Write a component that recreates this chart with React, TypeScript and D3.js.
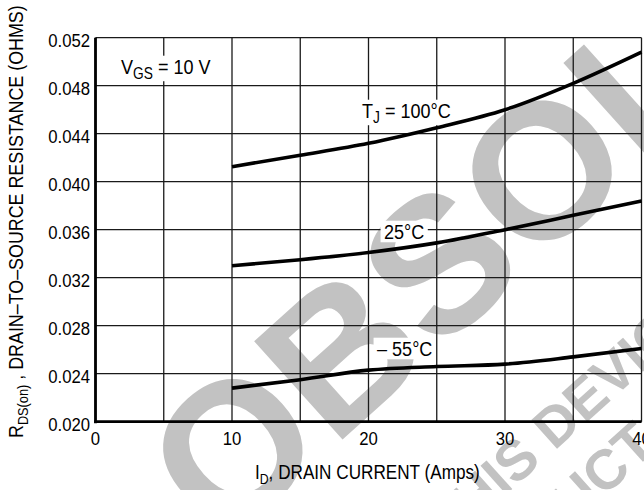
import React, { useEffect, useRef } from "react";
import * as d3 from "d3";

const currents = [10, 15, 20, 25, 30, 35, 40];
const r100 = [0.04125, 0.0422, 0.0432, 0.0445, 0.046, 0.0482, 0.0508];
const r25 = [0.033, 0.0335, 0.0341, 0.0349, 0.036, 0.0372, 0.0384];
const rMinus55 = [0.0228, 0.0235, 0.0243, 0.0246, 0.0248, 0.0254, 0.0261];
const xTickLabels = [0, 10, 20, 30, 40];
const xGrid = [0, 5, 10, 15, 20, 25, 30, 35, 40];
const yTicks = [0.02, 0.024, 0.028, 0.032, 0.036, 0.04, 0.044, 0.048, 0.052];

const W = 644;
const H = 490;
const FONT = "'Liberation Sans', Arial, Helvetica, sans-serif";
const WM = "#c2c2c2";
const SX = 0.88;

export default function App() {
  const ref = useRef<SVGSVGElement>(null);

  useEffect(() => {
    const svg = d3.select(ref.current);
    svg.selectAll("*").remove();

    const x = d3.scaleLinear().domain([0, 40]).range([95.5, 641.5]);
    const y = d3.scaleLinear().domain([0.02, 0.052]).range([421.7, 37.7]);

    svg.append("rect").attr("width", W).attr("height", H).attr("fill", "#fff");

    // watermark
    const wm = svg.append("g").attr("fill", WM).attr("font-family", FONT).attr("font-weight", "bold");
    wm.append("text").attr("transform", "translate(222,548) rotate(-42)").attr("font-size", 192).text("OBSOLETE");
    wm.append("text").attr("transform", "translate(448,547) rotate(-42)").attr("font-size", 56).text("THIS DEVICE IS");
    wm.append("text").attr("transform", "translate(453,633) rotate(-42)").attr("font-size", 56).text("PRODUCT");

    // grid
    const grid = svg.append("g").attr("stroke", "#1a1a1a").attr("stroke-width", 1.3);
    grid.selectAll("line.v").data(xGrid).join("line")
      .attr("x1", (d) => x(d)).attr("x2", (d) => x(d))
      .attr("y1", y(0.052)).attr("y2", y(0.02));
    grid.selectAll("line.h").data(yTicks).join("line")
      .attr("class", "h")
      .attr("x1", x(0)).attr("x2", x(40))
      .attr("y1", (d) => y(d)).attr("y2", (d) => y(d));

    // tick labels (condensed)
    const yl = svg.append("g").selectAll("g").data(yTicks).join("g")
      .attr("transform", (d) => `translate(90,${y(d) + 9}) scale(${SX},1)`);
    yl.append("text").attr("text-anchor", "end").attr("font-family", FONT).attr("font-size", 19)
      .text((d) => d3.format(".3f")(d));
    const xl = svg.append("g").selectAll("g").data(xTickLabels).join("g")
      .attr("transform", (d) => `translate(${x(d)},445) scale(${SX},1)`);
    xl.append("text").attr("text-anchor", "middle").attr("font-family", FONT).attr("font-size", 19)
      .text((d) => String(d));

    // in-plot labels with white backgrounds
    const addLabel = (tx: number, ty: number, build: (t: any) => void) => {
      const g = svg.append("g").attr("transform", `translate(${tx},${ty}) scale(0.86,1)`);
      const bg = g.append("rect").attr("fill", "#fff");
      const t = g.append("text").attr("font-family", FONT).attr("font-size", 21);
      build(t);
      const b = (t.node() as SVGTextElement).getBBox();
      bg.attr("x", b.x - 4).attr("y", b.y + 1).attr("width", b.width + 8).attr("height", b.height - 2);
    };
    addLabel(121, 74, (t) => {
      t.append("tspan").text("V");
      t.append("tspan").attr("dy", 5).attr("font-size", 16).text("GS");
      t.append("tspan").attr("dy", -5).text(" = 10 V");
    });
    addLabel(362, 118, (t) => {
      t.append("tspan").text("T");
      t.append("tspan").attr("dy", 5).attr("font-size", 16).text("J");
      t.append("tspan").attr("dy", -5).text(" = 100°C");
    });
    addLabel(384, 239, (t) => t.text("25°C"));
    addLabel(377, 356, (t) => t.text("– 55°C"));

    // curves
    const line = d3.line<number>()
      .x((_, i) => x(currents[i]))
      .y((d) => y(d))
      .curve(d3.curveMonotoneX);
    [r100, r25, rMinus55].forEach((s) => {
      svg.append("path").attr("d", line(s) as string).attr("fill", "none")
        .attr("stroke", "#000").attr("stroke-width", 3.6);
    });

    // axes
    svg.append("line").attr("x1", x(0)).attr("x2", x(0)).attr("y1", y(0.052)).attr("y2", y(0.02) + 1.5)
      .attr("stroke", "#000").attr("stroke-width", 2.8);
    svg.append("line").attr("x1", x(0) - 1.4).attr("x2", x(40)).attr("y1", y(0.02)).attr("y2", y(0.02))
      .attr("stroke", "#000").attr("stroke-width", 2.8);

    // axis titles, condensed to the reference widths
    const xg = svg.append("g");
    const xt = xg.append("text").attr("font-family", FONT).attr("font-size", 21);
    xt.append("tspan").text("I");
    xt.append("tspan").attr("dy", 5).attr("font-size", 15).text("D");
    xt.append("tspan").attr("dy", -5).text(", DRAIN CURRENT (Amps)");
    const xw = (xt.node() as SVGTextElement).getBBox().width;
    xg.attr("transform", `translate(255,479) scale(${225 / xw},1)`);

    const yg = svg.append("g");
    const yt = yg.append("text").attr("font-family", FONT).attr("font-size", 21);
    yt.append("tspan").text("R");
    yt.append("tspan").attr("dy", 5).attr("font-size", 15).text("DS(on)");
    yt.append("tspan").attr("dy", -5).text(" , DRAIN–TO–SOURCE RESISTANCE (OHMS)");
    const yw = (yt.node() as SVGTextElement).getBBox().width;
    yg.attr("transform", `translate(23,438) rotate(-90) scale(${433 / yw},1)`);
  }, []);

  return <svg ref={ref} width={W} height={H} style={{ position: "absolute", left: 0, top: 0 }} />;
}
